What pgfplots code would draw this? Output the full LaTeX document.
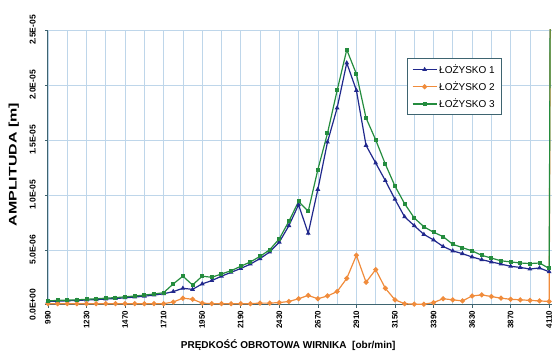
\documentclass[border=0pt]{standalone}
\usepackage{fontspec}
\setmainfont{Liberation Sans}
\usepackage{pgfplots}
\pgfplotsset{compat=1.18}
\definecolor{c1}{RGB}{32,40,140}
\definecolor{c2}{RGB}{240,140,60}
\definecolor{c3}{RGB}{36,140,62}
\definecolor{gridc}{RGB}{190,214,234}
\definecolor{axc}{RGB}{62,100,112}
\begin{document}
\begin{tikzpicture}
\path (-48pt,-53pt) rectangle (507pt,305pt);
\begin{axis}[
  at={(0pt,0pt)}, anchor=origin,
  scale only axis, width=504pt, height=275pt,
  xmin=990, xmax=4125, ymin=0, ymax=25,
  axis lines*=left, axis line style={axc, line width=1pt, -},
  xtick={990,1230,...,4110},
  xticklabels={990,1230,1470,1710,1950,2190,2430,2670,2910,3150,3390,3630,3870,4110},
  minor xtick={1110,1350,...,4000},
  ytick={0,5,10,15,20,25},
  yticklabels={0.0E+00,5.0E-06,1.0E-05,1.5E-05,2.0E-05,2.5E-05},
  grid=both,
  major grid style={gridc, line width=0.6pt},
  minor grid style={gridc, line width=0.6pt},
  tick style={axc, line width=0.6pt},
  tick align=outside, major tick length=3pt, minor tick length=0pt,
  xticklabel style={rotate=90, anchor=east, font=\fontsize{8}{9}\selectfont\bfseries, inner sep=3pt},
  yticklabel style={rotate=90, anchor=south, font=\fontsize{8.5}{9}\selectfont\bfseries, inner sep=2pt, yshift=7pt},
  xlabel={PRĘDKOŚĆ OBROTOWA WIRNIKA \ [obr/min]},
  xlabel style={at={(axis description cs:0.477,-0.145)}, anchor=center, font=\fontsize{10}{12}\selectfont\bfseries},
  ylabel={\scalebox{1.6}[1.1]{AMPLITUDA [m]}},
  ylabel style={at={(axis description cs:-0.068,0.51)}, anchor=center, rotate=0, font=\fontsize{10}{12}\selectfont\bfseries},
  legend style={at={(rel axis cs:0.712,0.898)}, anchor=north west, draw=axc, line width=1pt,
     font=\fontsize{10}{11}\selectfont, inner xsep=5pt, inner ysep=4pt, row sep=3pt},
  legend cell align=left,
  legend image code/.code={\draw[#1, line width=1.2pt] plot[mark repeat=2, mark phase=2] coordinates {(0pt,0pt) (12pt,0pt) (24pt,0pt)};},
  clip=true,
]
\addplot[c1, line width=1.2pt, mark=triangle*, mark size=1.6pt] table {
x y
990 0.30
1050 0.33
1110 0.36
1170 0.40
1230 0.43
1290 0.47
1350 0.52
1410 0.57
1470 0.63
1530 0.70
1590 0.78
1650 0.88
1710 1.00
1770 1.20
1830 1.50
1890 1.40
1950 1.90
2010 2.20
2070 2.60
2130 2.95
2190 3.30
2250 3.70
2310 4.20
2370 4.80
2430 5.70
2490 7.20
2550 9.10
2610 6.50
2670 10.50
2730 14.80
2790 17.90
2850 22.00
2910 19.50
2970 14.50
3030 12.90
3090 11.30
3150 9.60
3210 8.00
3270 7.20
3330 6.40
3390 5.90
3450 5.30
3510 4.90
3570 4.65
3630 4.35
3690 4.10
3750 3.90
3810 3.70
3870 3.50
3930 3.40
3990 3.25
4050 3.35
4110 3.00
};
\addlegendentry{ŁOŻYSKO 1}
\addplot[c2, line width=1.2pt, mark=*, mark size=1.9pt] table {
x y
990 0.10
1050 0.10
1110 0.10
1170 0.10
1230 0.10
1290 0.10
1350 0.10
1410 0.10
1470 0.10
1530 0.10
1590 0.10
1650 0.10
1710 0.10
1770 0.25
1830 0.60
1890 0.50
1950 0.15
2010 0.10
2070 0.10
2130 0.10
2190 0.10
2250 0.10
2310 0.15
2370 0.15
2430 0.20
2490 0.30
2550 0.55
2610 0.85
2670 0.55
2730 0.80
2790 1.20
2850 2.40
2910 4.50
2970 2.05
3030 3.20
3090 1.50
3150 0.45
3210 0.10
3270 0.05
3330 0.05
3390 0.20
3450 0.55
3510 0.45
3570 0.35
3630 0.80
3690 0.90
3750 0.75
3810 0.60
3870 0.50
3930 0.45
3990 0.40
4050 0.35
4110 0.30
4120 40
};
\addlegendentry{ŁOŻYSKO 2}
\addplot[c3, line width=1.2pt, mark=square*, mark size=1.4pt] table {
x y
990 0.35
1050 0.40
1110 0.42
1170 0.45
1230 0.50
1290 0.55
1350 0.60
1410 0.65
1470 0.72
1530 0.80
1590 0.88
1650 0.98
1710 1.10
1770 1.90
1830 2.60
1890 1.80
1950 2.60
2010 2.50
2070 2.80
2130 3.10
2190 3.50
2250 3.90
2310 4.40
2370 5.00
2430 6.00
2490 7.60
2550 9.40
2610 8.50
2670 12.30
2730 15.60
2790 19.50
2850 23.20
2910 21.00
2970 17.00
3030 15.00
3090 12.80
3150 10.80
3210 9.20
3270 7.90
3330 7.10
3390 6.60
3450 6.20
3510 5.50
3570 5.20
3630 4.90
3690 4.50
3750 4.25
3810 4.00
3870 3.90
3930 3.80
3990 3.75
4050 3.80
4110 3.30
4120 40
};
\addlegendentry{ŁOŻYSKO 3}
\end{axis}
\end{tikzpicture}
\end{document}
